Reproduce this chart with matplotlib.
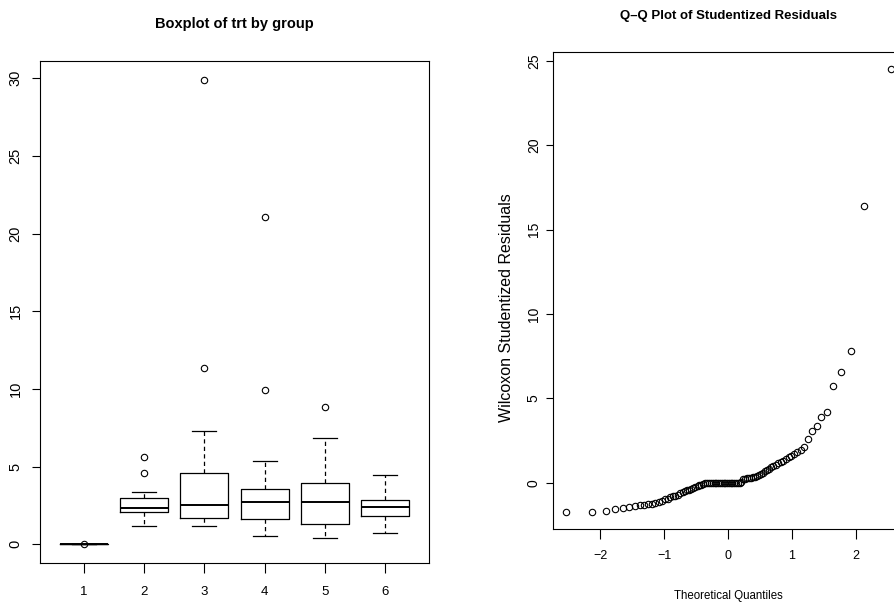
import matplotlib
matplotlib.use("Agg")
import matplotlib.pyplot as plt
from statistics import NormalDist

plt.rcParams['font.family'] = ['Liberation Sans', 'DejaVu Sans']

# --- boxplot summary per group ---
groups = [1, 2, 3, 4, 5, 6]
q1 = [0.0, 2.06, 1.70, 1.61, 1.29, 1.80]
med = [0.0, 2.36, 2.51, 2.70, 2.70, 2.43]
q3 = [0.0, 2.98, 4.62, 3.59, 3.95, 2.88]
whis_lo = [0.0, 1.18, 1.18, 0.54, 0.43, 0.71]
whis_hi = [0.0, 3.35, 7.30, 5.34, 6.85, 4.46]
outliers = [[0.0], [4.57, 5.65], [11.33, 29.87], [9.90, 21.04], [8.82], []]

# --- sorted studentized residuals for the Q-Q plot ---
residuals = [
    -1.72, -1.72, -1.64, -1.57, -1.50, -1.44, -1.38, -1.33, -1.30, -1.28,
    -1.25, -1.20, -1.12, -1.05, -0.98, -0.93, -0.86, -0.80, -0.75, -0.70,
    -0.62, -0.55, -0.50, -0.45, -0.40, -0.36, -0.32, -0.26, -0.20, -0.15,
    -0.10, -0.06, -0.02, 0.00, 0.00, 0.00, 0.00, 0.00, 0.00, 0.00,
    0.00, 0.00, 0.00, 0.00, 0.00, 0.00, 0.00, 0.00, 0.00, 0.00,
    0.01, 0.02, 0.03, 0.20, 0.24, 0.27, 0.29, 0.31, 0.33, 0.36,
    0.40, 0.45, 0.52, 0.60, 0.68, 0.76, 0.85, 0.93, 1.00, 1.08,
    1.15, 1.23, 1.32, 1.42, 1.52, 1.62, 1.72, 1.82, 1.95, 2.10,
    2.59, 3.08, 3.36, 3.89, 4.19, 5.73, 6.58, 7.82, 16.4, 24.5,
]
n = len(residuals)
theo = [NormalDist().inv_cdf((i + 0.5) / n) for i in range(n)]

fig = plt.figure(figsize=(8.94, 6.06), dpi=100)
W, H = 894, 606

def place(x0, y0, x1, y1):
    return [x0 / W, 1 - y1 / H, (x1 - x0) / W, (y1 - y0) / H]

# ---------------- left: boxplot ----------------
ax1 = fig.add_axes(place(40, 61, 429, 563))
stats = []
for i in range(len(groups)):
    stats.append(dict(med=med[i], q1=q1[i], q3=q3[i], whislo=whis_lo[i],
                      whishi=whis_hi[i], fliers=outliers[i]))
ax1.bxp(stats, positions=groups, widths=0.8, capwidths=0.4,
        boxprops=dict(color='black', linewidth=0.9),
        medianprops=dict(color='black', linewidth=1.4),
        whiskerprops=dict(color='black', linewidth=0.9, linestyle=(0, (3.4, 2.6))),
        capprops=dict(color='black', linewidth=0.9),
        flierprops=dict(marker='o', markerfacecolor='none', markeredgecolor='black',
                        markersize=4.6, markeredgewidth=0.8))
ax1.set_xlim(0.27, 6.73)
ax1.set_ylim(-1.2, 31.1)
ax1.set_xticks(groups)
ax1.set_xticklabels([str(g) for g in groups])
ax1.set_yticks([0, 5, 10, 15, 20, 25, 30])
ax1.tick_params(axis='x', direction='out', length=7, width=0.8, pad=9.5, labelsize=9.5)
ax1.tick_params(axis='y', direction='out', length=6, width=0.8, pad=6.5, labelsize=10.5)
plt.setp(ax1.get_yticklabels(), rotation=90, va='center')
ax1.set_title('Boxplot of trt by group', fontsize=10.5, fontweight='bold', pad=23.8)

# ---------------- right: Q-Q plot ----------------
ax2 = fig.add_axes(place(552.7, 52, 904, 529.3))
ax2.plot(theo, residuals, linestyle='none', marker='o', markerfacecolor='none',
         markeredgecolor='black', markersize=4.6, markeredgewidth=0.8, clip_on=False)
ax2.set_xlim(-2.74, 2.75)
ax2.set_ylim(-2.75, 25.52)
ax2.set_xticks([-2, -1, 0, 1, 2])
ax2.set_xticklabels(['\u22122', '\u22121', '0', '1', '2'])
ax2.set_yticks([0, 5, 10, 15, 20, 25])
ax2.tick_params(axis='x', direction='out', length=7, width=0.8, pad=8, labelsize=9)
ax2.tick_params(axis='y', direction='out', length=5, width=0.8, pad=3.5, labelsize=10)
plt.setp(ax2.get_yticklabels(), rotation=90, va='center')
ax2.set_title('Q\u2013Q Plot of Studentized Residuals', fontsize=9.5,
              fontweight='bold', pad=23.4)
ax2.set_xlabel('Theoretical Quantiles', fontsize=8.3)
ax2.xaxis.set_label_coords(0.5, -0.127)
ax2.set_ylabel('Wilcoxon Studentized Residuals', fontsize=11.5)
ax2.yaxis.set_label_coords(-0.11, 0.465)

for ax in (ax1, ax2):
    for s in ax.spines.values():
        s.set_linewidth(0.8)

fig.savefig('out.png', dpi=100)
